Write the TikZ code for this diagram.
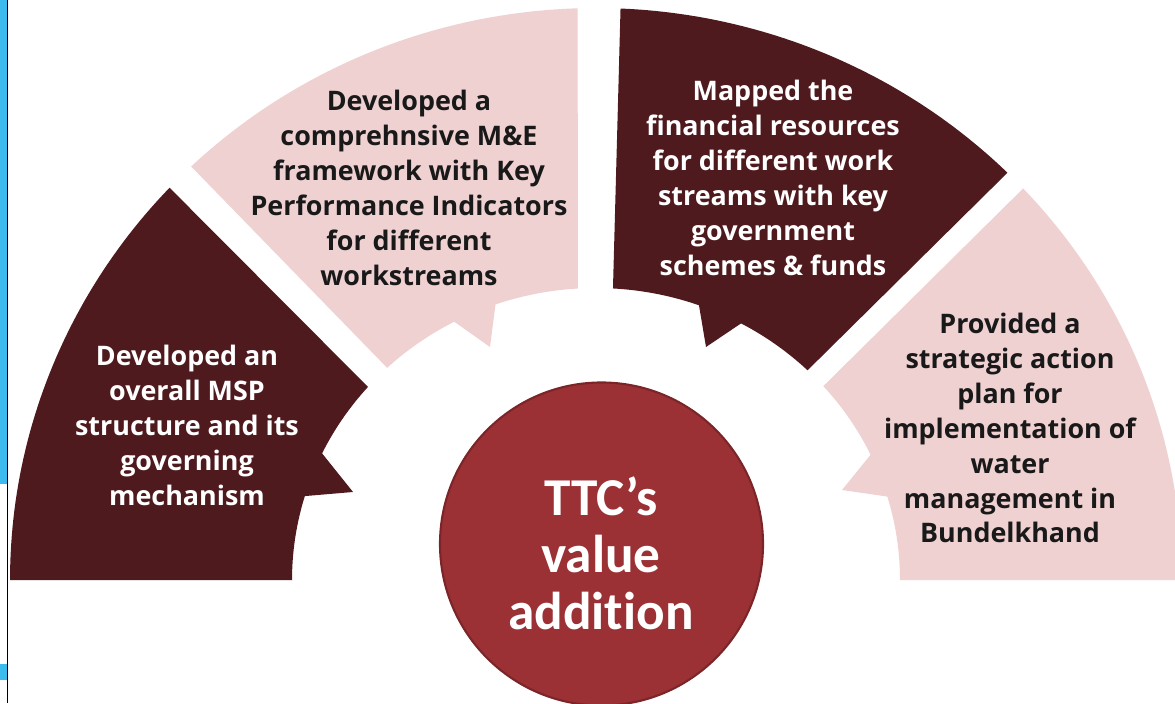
\documentclass[tikz,border=0pt]{standalone}
\usepackage{fontspec}
\setmainfont[Ligatures={NoCommon}]{Open Sans}
\newfontfamily\ctrfont[Ligatures={NoCommon}]{Carlito}
\definecolor{segdark}{HTML}{4E1A1D}
\definecolor{segpink}{HTML}{EFD1D2}
\definecolor{ctrfill}{HTML}{9B3135}
\definecolor{ctrline}{HTML}{7B2529}
\definecolor{stripblue}{HTML}{3BBBEE}
\tikzset{
  darkseg/.style={fill=segdark},
  pinkseg/.style={fill=segpink},
  segtext/.style={align=center, font=\fontsize{15.3}{19.9}\selectfont\bfseries, inner sep=0pt},
  wtext/.style={segtext, text=white},
  btext/.style={segtext, text=black!90},
  ctrcircle/.style={circle, fill=ctrfill, draw=ctrline, line width=1.2pt, minimum size=323*0.02cm, inner sep=0pt},
  ctrtext/.style={align=center, text=white, font=\ctrfont\bfseries\fontsize{30.3}{32.4}\selectfont}
}
\begin{document}
\begin{tikzpicture}[x=0.02cm,y=0.02cm]
\useasboundingbox (0,0) rectangle (1175,703);
\begin{scope}
\clip (0,0) rectangle (1175,703);
% left strip
\fill[stripblue] (0,219) rectangle (6.5,703);
\fill[stripblue] (0,23) rectangle (6.5,39);
\fill[black] (6.5,0) rectangle (8.2,703);
% segment 1 (dark, left)
\fill[darkseg] plot[domain=180:136.7,samples=50] ({596+586*cos(\x)},{123+572*sin(\x)})
  -- plot[domain=138.6:154.3,samples=20] ({596+304*cos(\x)},{123+292*sin(\x)})
  -- (353,211)
  -- plot[domain=163.3:180,samples=20] ({596+304*cos(\x)},{123+292*sin(\x)}) -- cycle;
% segment 2 (pink, upper left)
\fill[pinkseg] plot[domain=133.7:91.8,samples=50] ({596+586*cos(\x)},{123+572*sin(\x)})
  -- plot[domain=93.4:109.3,samples=20] ({596+304*cos(\x)},{123+292*sin(\x)})
  -- (490,356)
  -- plot[domain=117.8:133.4,samples=20] ({596+304*cos(\x)},{123+292*sin(\x)}) -- cycle;
% segment 3 (dark, upper right)
\fill[darkseg] plot[domain=87.6:45.4,samples=50] ({596+586*cos(\x)},{123+572*sin(\x)})
  -- plot[domain=45.9:61.5,samples=20] ({596+304*cos(\x)},{123+292*sin(\x)})
  -- (706,356)
  -- plot[domain=70.2:86.8,samples=20] ({596+304*cos(\x)},{123+292*sin(\x)}) -- cycle;
% segment 4 (pink, right)
\fill[pinkseg] plot[domain=43.2:0,samples=50] ({596+586*cos(\x)},{123+572*sin(\x)})
  -- plot[domain=0:16.6,samples=20] ({596+304*cos(\x)},{123+292*sin(\x)})
  -- (842,213)
  -- plot[domain=25.4:41.6,samples=20] ({596+304*cos(\x)},{123+292*sin(\x)}) -- cycle;
% centre circle
\node[ctrcircle] (ctr) at (601.5,159) {};
\end{scope}
\node[wtext] (t1) at (187,278) {Developed an\\overall MSP\\structure and its\\governing\\mechanism};
\node[btext] (t2) at (409,515) {Developed a\\comprehnsive M\&E\\framework with Key\\Performance Indicators\\for different\\workstreams};
\node[wtext] (t3) at (773,525) {Mapped the\\financial resources\\for different work\\streams with key\\government\\schemes \& funds};
\node[btext] (t4) at (1010,275) {Provided a\\strategic action\\plan for\\implementation of\\water\\management in\\Bundelkhand};
\node[ctrtext] (ct) at (601,150) {TTC’s\\value\\addition};
\end{tikzpicture}
\end{document}
